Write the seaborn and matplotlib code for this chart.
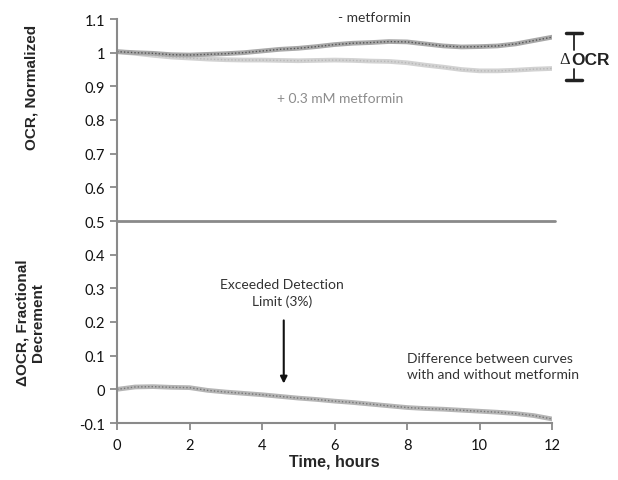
import numpy as np
import pandas as pd
import matplotlib
matplotlib.use('Agg')
import matplotlib.pyplot as plt
import seaborn as sns

# time axis, hours
hours = [0, 0.5, 1, 1.5, 2, 2.5, 3, 3.5, 4, 4.5, 5, 5.5, 6, 6.5, 7, 7.5,
         8, 8.5, 9, 9.5, 10, 10.5, 11, 11.5, 12]

# normalized OCR without metformin
ocr_control = [1.003, 1.000, 0.998, 0.994, 0.993, 0.995, 0.997, 1.000, 1.005,
               1.010, 1.013, 1.018, 1.024, 1.028, 1.030, 1.033, 1.032, 1.026,
               1.020, 1.017, 1.018, 1.020, 1.026, 1.036, 1.046]

# normalized OCR with 0.3 mM metformin
ocr_metformin = [1.003, 0.998, 0.992, 0.987, 0.984, 0.981, 0.979, 0.978, 0.978,
                 0.977, 0.976, 0.977, 0.978, 0.977, 0.975, 0.974, 0.970, 0.963,
                 0.957, 0.950, 0.946, 0.946, 0.948, 0.951, 0.953]

# fractional decrement between the two curves
ocr_delta = [0.000, 0.007, 0.008, 0.006, 0.005, -0.003, -0.008, -0.012, -0.016,
             -0.021, -0.026, -0.030, -0.035, -0.039, -0.044, -0.049, -0.054,
             -0.057, -0.059, -0.062, -0.065, -0.068, -0.072, -0.078, -0.088]

x_ticks = [0, 2, 4, 6, 8, 10, 12]
y_ticks = [-0.1, 0, 0.1, 0.2, 0.3, 0.4, 0.5, 0.6, 0.7, 0.8, 0.9, 1.0, 1.1]
y_ticklabels = ['-0.1', '0', '0.1', '0.2', '0.3', '0.4', '0.5', '0.6', '0.7',
                '0.8', '0.9', '1', '1.1']

df = pd.DataFrame({'hours': hours, 'control': ocr_control,
                   'metformin': ocr_metformin, 'delta': ocr_delta})

sns.set_style('white')
plt.rcParams['font.family'] = ['Lato', 'DejaVu Sans']

fig = plt.figure(figsize=(6.18, 4.81), dpi=100)
ax = fig.add_axes([117 / 618, 1 - 424 / 481, (552 - 117) / 618, (424 - 20) / 481])

spine_col = '#8a8a8a'

# fuzzy looking traces: thick soft line + dotted core
for col, c_soft, c_core in [('metformin', '#d2d2d2', '#b8b8b8'),
                            ('control', '#a8a8a8', '#555555'),
                            ('delta', '#b5b5b5', '#777777')]:
    sns.lineplot(data=df, x='hours', y=col, ax=ax, color=c_soft, lw=3.4)
    sns.lineplot(data=df, x='hours', y=col, ax=ax, color=c_core, lw=1.0,
                 linestyle=(0, (1, 1.5)))

ax.axhline(0.5, xmin=0, xmax=1.008, color=spine_col, lw=2, clip_on=False)

ax.set_xlim(0, 12)
ax.set_ylim(-0.1, 1.1)
ax.set_xticks(x_ticks)
ax.set_xticklabels([str(t) for t in x_ticks])
ax.set_yticks(y_ticks)
ax.set_yticklabels(y_ticklabels)
ax.tick_params(axis='both', direction='out', length=5, width=1.3,
               color=spine_col, labelsize=10.5, labelcolor='#111111',
               bottom=True, left=True)
ax.tick_params(axis='x', pad=6)
for s in ['top', 'right']:
    ax.spines[s].set_visible(False)
for s in ['left', 'bottom']:
    ax.spines[s].set_color(spine_col)
    ax.spines[s].set_linewidth(1.5)

ax.set_xlabel('Time, hours', fontsize=11.5, fontweight='bold',
              family=['Liberation Sans', 'DejaVu Sans'], labelpad=1)
ax.set_ylabel('')

trans = matplotlib.transforms.blended_transform_factory(fig.transFigure, ax.transData)
ax.text(32 / 618, 0.9, 'OCR, Normalized', rotation=90, ha='center', va='center',
        fontsize=11, fontweight='bold', family=['Liberation Sans', 'DejaVu Sans'],
        transform=trans)
ax.text(30 / 618, 0.2, 'ΔOCR, Fractional\nDecrement', rotation=90, ha='center',
        va='center', fontsize=11, fontweight='bold', multialignment='center',
        linespacing=1.15, family=['Liberation Sans', 'DejaVu Sans'], transform=trans)

# curve labels
ax.text(7.1, 1.107, '- metformin', ha='center', va='center', fontsize=10,
        color='#333333', clip_on=False)
ax.text(6.15, 0.864, '+ 0.3 mM metformin', ha='center', va='center', fontsize=10,
        color='#8c8c8c')

# delta OCR bracket
bx = 12.61
ax.plot([bx, bx], [1.058, 1.008], color='#222222', lw=1.3, clip_on=False)
ax.plot([bx, bx], [0.951, 0.918], color='#222222', lw=1.3, clip_on=False)
ax.plot([bx - 0.22, bx + 0.22], [1.058, 1.058], color='#222222', lw=2.5, clip_on=False)
ax.plot([bx - 0.22, bx + 0.22], [0.918, 0.918], color='#222222', lw=2.5, clip_on=False)
ax.text(12.5, 0.981, 'Δ', ha='right', va='center', fontsize=12,
        family=['Liberation Serif', 'DejaVu Serif'], color='#222222', clip_on=False)
ax.text(12.52, 0.981, 'OCR', ha='left', va='center', fontsize=12.5, fontweight='bold',
        family=['Liberation Sans', 'DejaVu Sans'], color='#222222', clip_on=False)

# detection limit arrow
ax.text(4.55, 0.288, 'Exceeded Detection\nLimit (3%)', ha='center', va='center',
        fontsize=10, color='#333333', linespacing=1.45)
ax.annotate('', xy=(4.6, 0.009), xytext=(4.6, 0.213),
            arrowprops=dict(arrowstyle='-|>', color='#111111', lw=1.5,
                            mutation_scale=10))

ax.text(8.0, 0.07, 'Difference between curves\nwith and without metformin',
        ha='left', va='center', fontsize=10, color='#333333', linespacing=1.45)

fig.savefig('out.png', dpi=100)
